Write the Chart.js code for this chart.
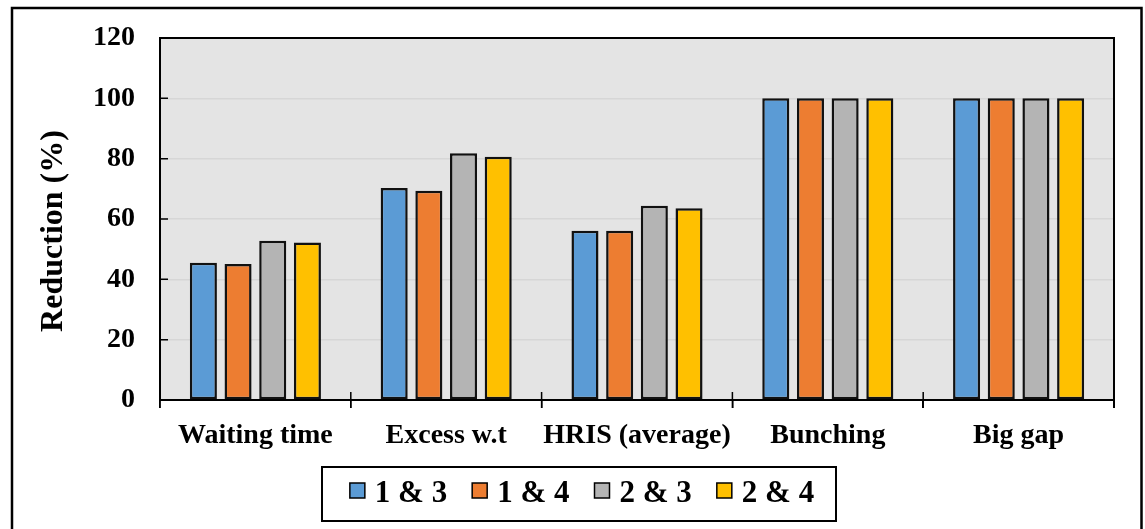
<!DOCTYPE html>
<html>
<head>
<meta charset="utf-8">
<script src="https://cdn.jsdelivr.net/npm/chart.js@4.4.1/dist/chart.umd.min.js"></script>
<style>
  html, body { margin: 0; padding: 0; background: #ffffff; }
  #wrap { width: 1145px; height: 529px; position: relative; }
</style>
</head>
<body>
<div id="wrap"><canvas id="c" width="1145" height="529"></canvas></div>
<script>
// Categories and series (reduction in %)
const categories = ['Waiting time', 'Excess w.t', 'HRIS (average)', 'Bunching', 'Big gap'];
const seriesNames = ['1 & 3', '1 & 4', '2 & 3', '2 & 4'];
const s13 = [45.5, 70.3, 56.1, 100, 100];
const s14 = [45.1, 69.4, 56.1, 100, 100];
const s23 = [52.8, 81.8, 64.4, 100, 100];
const s24 = [52.2, 80.6, 63.6, 100, 100];
const yTicks = [0, 20, 40, 60, 80, 100, 120];
const yTitle = 'Reduction (%)';

const seriesValues = [s13, s14, s23, s24];
const seriesColors = ['#5b9bd5', '#ed7d31', '#b4b4b4', '#ffc000'];
const FONT = '"Liberation Serif", "Times New Roman", serif';

// Grey plot background, frame pieces, inner tick marks, axis title and the boxed legend
const decorations = {
  id: 'decorations',
  beforeDraw(chart) {
    const { ctx, chartArea: a } = chart;
    ctx.save();
    ctx.fillStyle = '#e4e4e4';
    ctx.fillRect(a.left, a.top, a.right - a.left, a.bottom - a.top);
    ctx.restore();
  },
  afterDraw(chart) {
    const { ctx, chartArea: a, scales } = chart;
    ctx.save();
    // outer figure frame
    ctx.strokeStyle = '#000';
    ctx.lineWidth = 2.5;
    ctx.strokeRect(12, 8, 1129.5, 560);

    // top and right edges of the plot area
    ctx.lineWidth = 2;
    ctx.beginPath();
    ctx.moveTo(a.left, a.top);
    ctx.lineTo(a.right, a.top);
    ctx.lineTo(a.right, a.bottom + 8);
    ctx.stroke();

    // inward tick marks on the value axis
    ctx.lineWidth = 1.5;
    ctx.beginPath();
    yTicks.forEach(v => {
      const y = scales.y.getPixelForValue(v);
      ctx.moveTo(a.left, y);
      ctx.lineTo(a.left + 8, y);
    });
    // category separators crossing the category axis
    const x = scales.x;
    const half = (x.getPixelForValue(1) - x.getPixelForValue(0)) / 2;
    for (let i = 0; i <= categories.length; i++) {
      const px = x.getPixelForValue(i) - half;
      ctx.moveTo(px, a.bottom - 8);
      ctx.lineTo(px, a.bottom + 8);
    }
    ctx.stroke();

    // value-axis title, rotated
    ctx.save();
    ctx.translate(54, (a.top + a.bottom) / 2 + 12);
    ctx.rotate(-Math.PI / 2);
    ctx.font = 'bold 32px ' + FONT;
    ctx.fillStyle = '#000';
    ctx.textAlign = 'center';
    ctx.textBaseline = 'middle';
    ctx.fillText(yTitle, 0, 0);
    ctx.restore();

    // legend
    ctx.font = 'bold 31px ' + FONT;
    ctx.textBaseline = 'alphabetic';
    ctx.textAlign = 'left';
    const sw = 15, gapText = 10, gapItem = 25;
    const widths = seriesNames.map(n => ctx.measureText(n).width);
    const content = widths.reduce((s, w) => s + sw + gapText + w, 0) + gapItem * (seriesNames.length - 1);
    const boxL = 322, boxR = 836, boxT = 467, boxB = 521;
    let cx = (boxL + boxR) / 2 - content / 2 + 3;
    const baseline = 502;
    ctx.lineWidth = 2;
    ctx.strokeStyle = '#000';
    ctx.strokeRect(boxL, boxT, boxR - boxL, boxB - boxT);
    seriesNames.forEach((n, i) => {
      ctx.fillStyle = seriesColors[i];
      ctx.fillRect(cx, baseline - 19, sw, sw);
      ctx.lineWidth = 1.5;
      ctx.strokeRect(cx, baseline - 19, sw, sw);
      ctx.fillStyle = '#000';
      ctx.fillText(n, cx + sw + gapText, baseline);
      cx += sw + gapText + widths[i] + gapItem;
    });
    ctx.restore();
  }
};

new Chart(document.getElementById('c'), {
  type: 'bar',
  data: {
    labels: categories,
    datasets: seriesNames.map((name, i) => ({
      label: name,
      data: seriesValues[i],
      backgroundColor: seriesColors[i],
      borderColor: '#111111',
      borderWidth: 2.5,
      borderSkipped: false,
      categoryPercentage: 0.727,
      barPercentage: 0.78
    }))
  },
  options: {
    responsive: false,
    animation: false,
    devicePixelRatio: 1,
    layout: { padding: { left: 14, right: 31, top: 38, bottom: 0 } },
    plugins: {
      legend: { display: false },
      tooltip: { enabled: false }
    },
    scales: {
      x: {
        grid: { display: true, drawOnChartArea: false, offset: true, color: '#000', lineWidth: 1.5, tickLength: 8 },
        border: { display: true, color: '#000', width: 2 },
        ticks: { color: '#000', padding: 11, maxRotation: 0, autoSkip: false,
                 font: { family: FONT, size: 28, weight: 'bold' } },
        afterFit(scale) {
          scale.height = 129;
          scale.paddingLeft = 0;
          scale.paddingRight = 0;
        }
      },
      y: {
        min: 0,
        max: 120,
        afterBuildTicks(scale) { scale.ticks = yTicks.map(v => ({ value: v })); },
        grid: { color: '#d6d6d6', lineWidth: 1.5, drawTicks: false },
        border: { display: true, color: '#000', width: 2 },
        ticks: { color: '#000', padding: 25,
                 font: { family: FONT, size: 28, weight: 'bold' } },
        afterFit(scale) {
          scale.width = 146;
          scale.paddingTop = 0;
          scale.paddingBottom = 0;
        }
      }
    }
  },
  plugins: [decorations]
});
</script>
</body>
</html>
